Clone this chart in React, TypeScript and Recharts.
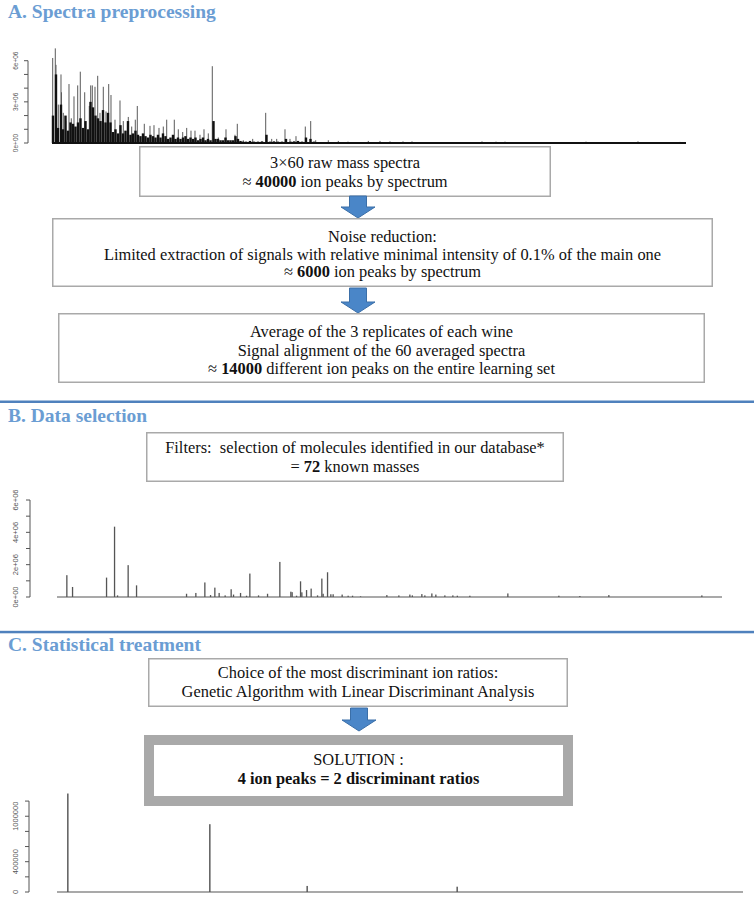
import React from "react";
import { BarChart, Bar, XAxis, YAxis, ReferenceLine } from "recharts";

// A. raw spectrum, intensity per m/z position (arbitrary m/z units)
const rawPeaks: [number, number][] = [
  [52.7, 6.2e6], [55.3, 6.9e6], [56, 5.7e6], [58.3, 2.8e6], [61, 5.0e6], [61.5, 3.7e6],
  [63.3, 2.2e6], [65.7, 1.6e6], [69, 4.3e6], [71.3, 1.8e6], [74, 3.4e6], [77.7, 4.2e6],
  [80.3, 5.2e6], [84.7, 3.7e6], [89.3, 2.7e6], [90.7, 4.2e6], [92.3, 4.2e6], [95, 4.1e6],
  [97.7, 4.9e6], [100, 2.2e6], [103.3, 4.1e6], [106, 2.3e6], [108.7, 4.3e6], [111, 3.5e6],
  [115, 1.7e6], [120, 3.1e6], [123.3, 1.6e6], [128.3, 1.9e6], [131.7, 1.2e6], [135.3, 1.7e6],
  [137.3, 2.7e6], [144.3, 1.4e6], [150, 1.25e6], [154, 1.3e6], [159, 1.1e6], [163.3, 1.2e6],
  [166.7, 1.7e6], [174.3, 1.7e6], [178.3, 1.0e6], [182.7, 0.8e6], [186.7, 1.1e6], [191, 0.9e6],
  [195, 0.9e6], [200, 0.6e6], [204, 1.0e6], [208.3, 0.7e6], [212.3, 5.6e6], [218.3, 0.4e6],
  [226, 1.0e6], [235, 0.6e6], [237.3, 1.4e6], [243.3, 0.2e6], [252.7, 0.3e6], [265.7, 2.2e6],
  [271.7, 0.3e6], [276.7, 0.3e6], [285, 1.0e6], [290, 0.3e6], [296, 0.5e6], [305.3, 1.2e6],
  [310.7, 1.6e6], [315.7, 0.2e6], [328.3, 0.2e6], [338.3, 0.15e6], [348, 0.1e6], [368.3, 0.15e6],
  [380, 0.15e6], [390, 0.12e6], [403, 0.12e6], [412, 0.12e6], [482, 0.12e6], [496, 0.1e6],
  [505, 0.1e6], [586, 0.1e6], [638, 0.12e6], [680, 0.08e6],
];

// dense low-intensity part of the raw spectrum
const rawNoise: [number, number][] = [
  [53, 2.0e6], [56, 5.0e6], [58, 1.1e6], [61, 2.8e6], [63, 1.0e6], [65.5, 2.0e6], [68, 0.9e6],
  [70.5, 1.5e6], [73, 1.4e6], [75.5, 1.2e6], [78, 1.5e6], [80.5, 1.8e6], [83, 1.1e6], [85.5, 1.6e6],
  [88, 1.0e6], [90.5, 3.0e6], [93, 2.6e6], [95.5, 2.0e6], [98, 1.8e6], [100.5, 1.6e6], [103, 2.4e6],
  [105.5, 1.5e6], [108, 2.2e6], [110.5, 1.5e6], [113, 0.8e6], [115.5, 1.0e6], [118, 0.7e6],
  [120.5, 1.3e6], [123, 0.7e6], [125.5, 0.9e6], [128, 1.6e6], [130.5, 0.6e6], [133, 0.7e6],
  [135.5, 0.9e6], [138, 0.6e6], [140.5, 0.5e6], [143, 0.7e6], [145.5, 0.5e6], [148, 0.4e6],
  [150.5, 0.6e6], [153, 0.5e6], [155.5, 0.4e6], [158, 0.6e6], [160.5, 0.4e6], [163, 0.7e6],
  [165.5, 0.5e6], [168, 0.3e6], [170.5, 0.4e6], [173, 0.6e6], [175.5, 0.3e6], [178, 0.4e6],
  [180.5, 0.3e6], [183, 0.4e6], [185.5, 0.5e6], [188, 0.3e6], [190.5, 0.4e6], [193, 0.3e6],
  [195.5, 0.4e6], [198, 0.2e6], [200.5, 0.3e6], [203, 0.4e6], [205.5, 0.2e6], [208, 0.3e6],
  [210.5, 0.2e6], [213.5, 1.6e6], [215.5, 0.3e6], [218, 0.3e6], [220.5, 0.2e6], [223, 0.2e6],
  [225.5, 0.4e6], [228, 0.2e6], [230.5, 0.2e6], [233, 0.2e6], [235.5, 0.5e6], [238, 0.3e6],
  [240.5, 0.15e6], [243, 0.1e6], [246, 0.1e6], [250, 0.15e6], [254, 0.1e6], [258, 0.1e6],
  [262, 0.12e6], [266.5, 0.6e6], [270, 0.1e6], [274, 0.12e6], [278, 0.1e6], [282, 0.1e6],
  [286, 0.3e6], [290.5, 0.1e6], [294, 0.12e6], [298, 0.15e6], [302, 0.1e6], [306, 0.4e6],
  [310.5, 0.3e6], [314, 0.1e6],
];
const rawRange: [number, number] = [52, 686];
const rawTicks = [0, 1e6, 2e6, 3e6, 4e6, 5e6, 6e6];
const rawLabelValues = [0, 3e6, 6e6];
const rawLabels = ["0e+00", "3e+06", "6e+06"];

// B. the 72 known masses
const knownPeaks: [number, number][] = [
  [67, 1.35e6], [72.7, 0.62e6], [106.7, 1.2e6], [114.7, 4.35e6], [117.7, 0.1e6], [128.3, 1.97e6],
  [136.7, 0.72e6], [186.7, 0.2e6], [196, 0.25e6], [205, 0.9e6], [210.7, 0.12e6], [215, 0.58e6],
  [219.3, 0.25e6], [225.3, 0.1e6], [231.3, 0.48e6], [233.7, 0.15e6], [240.7, 0.25e6],
  [246.7, 0.08e6], [250, 1.45e6], [258.7, 0.1e6], [267.7, 0.2e6], [280, 2.17e6], [291, 0.33e6],
  [292.3, 0.3e6], [296.7, 0.08e6], [300.7, 0.97e6], [302, 0.29e6], [306.7, 0.43e6],
  [311.3, 0.52e6], [317.7, 0.1e6], [322, 1.14e6], [323.3, 0.2e6], [327.7, 1.53e6], [331, 0.17e6],
  [333.3, 0.17e6], [342.3, 0.15e6], [348.3, 0.08e6], [352.7, 0.08e6], [360.7, 0.04e6],
  [387, 0.12e6], [399, 0.1e6], [410, 0.15e6], [412.5, 0.1e6], [422, 0.18e6], [425, 0.1e6],
  [432, 0.22e6], [436, 0.15e6], [445, 0.1e6], [453, 0.1e6], [457.5, 0.08e6], [470, 0.08e6],
  [508, 0.22e6], [559, 0.08e6], [580, 0.06e6], [609, 0.12e6], [702, 0.1e6],
];
const knownRange: [number, number] = [57, 722];
const knownTicks = [0, 1e6, 2e6, 3e6, 4e6, 5e6, 6e6];
const knownLabelValues = [0, 2e6, 4e6, 6e6];
const knownLabels = ["0e+00", "2e+06", "4e+06", "6e+06"];

// C. the 4 selected ion peaks
const solutionPeaks: [number, number][] = [
  [68, 1.3e6], [210, 0.895e6], [307.3, 0.08e6], [457.3, 0.07e6],
];
const solutionRange: [number, number] = [57, 743];
const solutionTicks = [0, 2e5, 4e5, 6e5, 8e5, 1e6, 1.2e6];
const solutionLabelValues = [0, 4e5, 1e6];
const solutionLabels = ["0", "400000", "1000000"];

const SERIF = "'Liberation Serif', 'Times New Roman', serif";
const SANS = "'Liberation Sans', Arial, sans-serif";
const TITLE_BLUE = "#6b9dd3";
const RULE_BLUE = "#4f81bd";
const BOX_GREY = "#a9a9a9";
const TEXT_SIZE = 16.4;

type Row = { mz: number; intensity: number; kind: string };

function toRows(peaks: [number, number][], kind: string): Row[] {
  return peaks.map(([mz, intensity]) => ({ mz, intensity, kind }));
}

type SpectrumProps = {
  rows: Row[];
  top: number;
  height: number;
  marginTop: number;
  marginBottom: number;
  axisWidth: number;
  xDomain: [number, number];
  yDomain: [number, number];
  ticks: number[];
  labelValues: number[];
  labels: string[];
  tickMargin: number;
  fontSize: number;
  range: [number, number];
  rangeColor: string;
  rangeWidth: number;
  peakColor: string;
  peakWidth: number;
};

function Spectrum(p: SpectrumProps) {
  const right = 754 - p.axisWidth - (p.xDomain[1] - p.xDomain[0]);

  const renderTick = (props: any) => {
    const { x, y, payload } = props;
    const i = p.labelValues.indexOf(payload.value);
    if (i < 0) return <g />;
    return (
      <text
        x={x}
        y={y}
        transform={`rotate(-90 ${x} ${y})`}
        textAnchor="middle"
        fontSize={p.fontSize}
        fontFamily={SANS}
        fill="#555"
      >
        {p.labels[i]}
      </text>
    );
  };

  const renderPeak = (props: any) => {
    const { x, y, width, height, payload } = props;
    if (!height || height <= 0) return <g />;
    const cx = x + width / 2;
    const noise = payload.kind === "noise";
    const w = noise ? 2.4 : p.peakWidth;
    return (
      <rect
        x={cx - w / 2}
        y={y}
        width={w}
        height={height}
        fill={noise ? "#111" : p.peakColor}
      />
    );
  };

  return (
    <div style={{ position: "absolute", left: 0, top: p.top, width: 754, height: p.height }}>
      <BarChart
        width={754}
        height={p.height}
        data={p.rows}
        margin={{ top: p.marginTop, right, bottom: p.marginBottom, left: 0 }}
      >
        <XAxis type="number" dataKey="mz" domain={p.xDomain} allowDataOverflow hide />
        <YAxis
          type="number"
          domain={p.yDomain}
          ticks={p.ticks}
          interval={0}
          width={p.axisWidth}
          axisLine={false}
          tickLine={{ stroke: "#555" }}
          tickSize={4}
          tickMargin={p.tickMargin}
          tick={renderTick}
          allowDataOverflow
        />
        <ReferenceLine
          segment={[
            { x: p.xDomain[0], y: p.ticks[0] },
            { x: p.xDomain[0], y: p.ticks[p.ticks.length - 1] },
          ]}
          stroke="#555"
          strokeWidth={1}
          ifOverflow="visible"
        />
        <ReferenceLine
          segment={[
            { x: p.range[0], y: 0 },
            { x: p.range[1], y: 0 },
          ]}
          stroke={p.rangeColor}
          strokeWidth={p.rangeWidth}
          ifOverflow="visible"
        />
        <Bar dataKey="intensity" barSize={1} isAnimationActive={false} shape={renderPeak} />
      </BarChart>
    </div>
  );
}

function Box({ x, y, w, h, lines, thick }: any) {
  const b = thick ? 10 : 1.5;
  return (
    <g>
      <rect
        x={x + b / 2}
        y={y + b / 2}
        width={w - b}
        height={h - b}
        fill="#fff"
        stroke={BOX_GREY}
        strokeWidth={b}
      />
      {lines}
    </g>
  );
}

function Arrow({ cx, y0, y1, y2 }: { cx: number; y0: number; y1: number; y2: number }) {
  const d = `M ${cx - 8.5} ${y0} H ${cx + 8.5} V ${y1} H ${cx + 17} L ${cx} ${y2} L ${cx - 17} ${y1} H ${cx - 8.5} Z`;
  return <path d={d} fill="#4a86c8" stroke="#3b6fa8" strokeWidth={1} />;
}

function Line({ x, y, children }: any) {
  return (
    <text
      x={x}
      y={y}
      textAnchor="middle"
      fontFamily={SERIF}
      fontSize={TEXT_SIZE}
      fill="#111"
      style={{ whiteSpace: "pre" }}
    >
      {children}
    </text>
  );
}

const B = ({ children }: any) => <tspan fontWeight="bold">{children}</tspan>;

export default function App() {
  const rawRows = [...toRows(rawPeaks, "peak"), ...toRows(rawNoise, "noise")];
  const knownRows = toRows(knownPeaks, "peak");
  const solutionRows = toRows(solutionPeaks, "peak");

  return (
    <div
      style={{
        position: "absolute",
        left: 0,
        top: 0,
        width: 754,
        height: 920,
        background: "#fff",
        overflow: "hidden",
      }}
    >
      <Spectrum
        rows={rawRows}
        top={40}
        height={122}
        marginTop={7}
        marginBottom={19}
        axisWidth={28}
        xDomain={[28, 706]}
        yDomain={[0, 7e6]}
        ticks={rawTicks}
        labelValues={rawLabelValues}
        labels={rawLabels}
        tickMargin={6}
        fontSize={6.5}
        range={rawRange}
        rangeColor="#111"
        rangeWidth={2}
        peakColor="#5a5a5a"
        peakWidth={1}
      />
      <Spectrum
        rows={knownRows}
        top={480}
        height={140}
        marginTop={20}
        marginBottom={23}
        axisWidth={30}
        xDomain={[30, 745]}
        yDomain={[0, 6e6]}
        ticks={knownTicks}
        labelValues={knownLabelValues}
        labels={knownLabels}
        tickMargin={8}
        fontSize={7.5}
        range={knownRange}
        rangeColor="#555"
        rangeWidth={1.2}
        peakColor="#555"
        peakWidth={1.3}
      />
      <Spectrum
        rows={solutionRows}
        top={780}
        height={130}
        marginTop={12}
        marginBottom={18}
        axisWidth={29}
        xDomain={[29, 750]}
        yDomain={[0, 1.32e6]}
        ticks={solutionTicks}
        labelValues={solutionLabelValues}
        labels={solutionLabels}
        tickMargin={7}
        fontSize={7.5}
        range={solutionRange}
        rangeColor="#555"
        rangeWidth={1.2}
        peakColor="#444"
        peakWidth={1.3}
      />

      <svg
        width={754}
        height={920}
        style={{ position: "absolute", left: 0, top: 0, pointerEvents: "none" }}
      >
        {/* section titles and rules */}
        <text x={8} y={18} fontFamily={SERIF} fontWeight="bold" fontSize={19.5} fill={TITLE_BLUE}>
          A. Spectra preprocessing
        </text>
        <rect x={0} y={400.5} width={754} height={2.5} fill={RULE_BLUE} />
        <text x={8} y={422} fontFamily={SERIF} fontWeight="bold" fontSize={19.5} fill={TITLE_BLUE}>
          B. Data selection
        </text>
        <rect x={0} y={630.8} width={754} height={2.5} fill={RULE_BLUE} />
        <text x={8} y={651} fontFamily={SERIF} fontWeight="bold" fontSize={19.5} fill={TITLE_BLUE}>
          C. Statistical treatment
        </text>

        {/* A. flow */}
        <Box
          x={139}
          y={146}
          w={412}
          h={51}
          lines={
            <>
              <Line x={345} y={168}>3×60 raw mass spectra</Line>
              <Line x={345} y={187}>
                ≈ <B>40000</B> ion peaks by spectrum
              </Line>
            </>
          }
        />
        <Arrow cx={358} y0={196} y1={207} y2={218} />
        <Box
          x={52}
          y={218}
          w={661}
          h={69}
          lines={
            <>
              <Line x={382.5} y={242}>Noise reduction:</Line>
              <Line x={382.5} y={259.5}>
                Limited extraction of signals with relative minimal intensity of 0.1% of the main one
              </Line>
              <Line x={382.5} y={277}>
                ≈ <B>6000</B> ion peaks by spectrum
              </Line>
            </>
          }
        />
        <Arrow cx={358} y0={288} y1={302} y2={313} />
        <Box
          x={58}
          y={313}
          w={647}
          h={70}
          lines={
            <>
              <Line x={381.5} y={337}>Average of the 3 replicates of each wine</Line>
              <Line x={381.5} y={356}>Signal alignment of the 60 averaged spectra</Line>
              <Line x={381.5} y={374}>
                ≈ <B>14000</B> different ion peaks on the entire learning set
              </Line>
            </>
          }
        />

        {/* B. flow */}
        <Box
          x={146}
          y={432}
          w={418}
          h={50}
          lines={
            <>
              <Line x={355} y={453}>{"Filters:  selection of molecules identified in our database*"}</Line>
              <Line x={355} y={472}>
                = <B>72</B> known masses
              </Line>
            </>
          }
        />

        {/* C. flow */}
        <Box
          x={148}
          y={658}
          w={420}
          h={49}
          lines={
            <>
              <Line x={358} y={678}>Choice of the most discriminant ion ratios:</Line>
              <Line x={358} y={697}>Genetic Algorithm with Linear Discriminant Analysis</Line>
            </>
          }
        />
        <Arrow cx={359} y0={708} y1={720} y2={731} />
        <Box
          x={144}
          y={735}
          w={429}
          h={71}
          thick
          lines={
            <>
              <Line x={358.5} y={765}>SOLUTION :</Line>
              <Line x={358.5} y={784}>
                <B>4 ion peaks = 2 discriminant ratios</B>
              </Line>
            </>
          }
        />
      </svg>
    </div>
  );
}
